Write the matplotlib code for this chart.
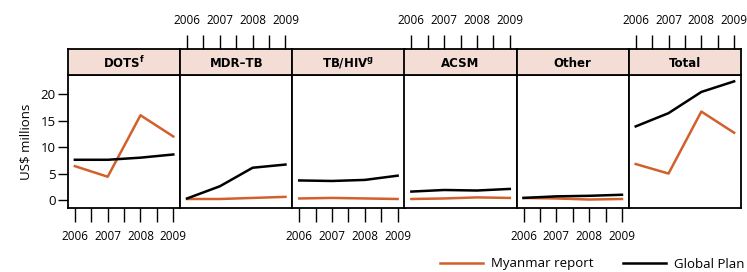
import matplotlib.pyplot as plt
from matplotlib.lines import Line2D

years = [2006, 2007, 2008, 2009]
panels = ["DOTS$^{\\mathregular{f}}$", "MDR\u2013TB", "TB/HIV$^{\\mathregular{g}}$", "ACSM", "Other", "Total"]

myanmar = [
    [6.4, 4.4, 16.0, 12.0],
    [0.2, 0.2, 0.4, 0.6],
    [0.3, 0.4, 0.3, 0.2],
    [0.2, 0.3, 0.5, 0.4],
    [0.4, 0.3, 0.1, 0.2],
    [6.8, 5.0, 16.7, 12.7],
]
global_plan = [
    [7.6, 7.6, 8.0, 8.6],
    [0.3, 2.6, 6.1, 6.7],
    [3.7, 3.6, 3.8, 4.6],
    [1.6, 1.9, 1.8, 2.1],
    [0.4, 0.7, 0.8, 1.0],
    [13.9, 16.4, 20.4, 22.4],
]

ORANGE = "#d2602a"
STRIP = "#f3ddd5"
W, H = 747, 272
plt.rcParams["font.family"] = ["Open Sans", "DejaVu Sans"]

fig = plt.figure(figsize=(W / 100, H / 100), dpi=100)

left, right = 68, 741
ptop, pbot = 75, 208
stop = 49
pw = (right - left) / len(panels)
tick_pos = [2006, 2006.5, 2007, 2007.5, 2008, 2008.5, 2009]

for i, name in enumerate(panels):
    x0 = left + i * pw
    ax = fig.add_axes([x0 / W, 1 - pbot / H, pw / W, (pbot - ptop) / H])
    sx = fig.add_axes([x0 / W, 1 - ptop / H, pw / W, (ptop - stop) / H], sharex=ax)

    ax.plot(years, myanmar[i], color=ORANGE, lw=1.8)
    ax.plot(years, global_plan[i], color="black", lw=1.8)
    ax.set_xlim(2005.79, 2009.21)
    ax.set_ylim(-1.5, 23.6)

    for a in (ax, sx):
        for s in a.spines.values():
            s.set_linewidth(1.3)

    sx.set_facecolor(STRIP)
    sx.set_yticks([])
    sx.text(0.5, 0.45, name, transform=sx.transAxes, ha="center", va="center",
            fontsize=8.5, fontweight="bold", family=["Liberation Sans Narrow", "DejaVu Sans"])

    if i == 0:
        ax.set_yticks([0, 5, 10, 15, 20])
        ax.tick_params(axis="y", length=7, width=1, labelsize=9.5, pad=2)
        ax.set_ylabel("US$ millions", fontsize=9.5, labelpad=6)
    else:
        ax.set_yticks([])

    ax.set_xticks(tick_pos)
    ax.set_xticklabels(["2006", "", "2007", "", "2008", "", "2009"])
    if i % 2 == 0:
        ax.tick_params(axis="x", length=10, width=1, labelsize=8.5, pad=6)
        sx.tick_params(axis="x", bottom=False, labelbottom=False, top=False, labeltop=False)
    else:
        ax.tick_params(axis="x", bottom=False, labelbottom=False)
        sx.tick_params(axis="x", bottom=False, labelbottom=False, top=True, labeltop=True,
                       length=10, width=1, labelsize=8.5, pad=6)

handles = [Line2D([], [], color=ORANGE, lw=1.8), Line2D([], [], color="black", lw=1.8)]
fig.legend(handles, ["Myanmar report", "Global Plan"], loc="center", ncol=2,
           bbox_to_anchor=(592 / W, 1 - 264 / H), frameon=False, fontsize=9.5,
           handlelength=3.3, columnspacing=2.2, handletextpad=0.6)

fig.savefig("out.png", dpi=100)
